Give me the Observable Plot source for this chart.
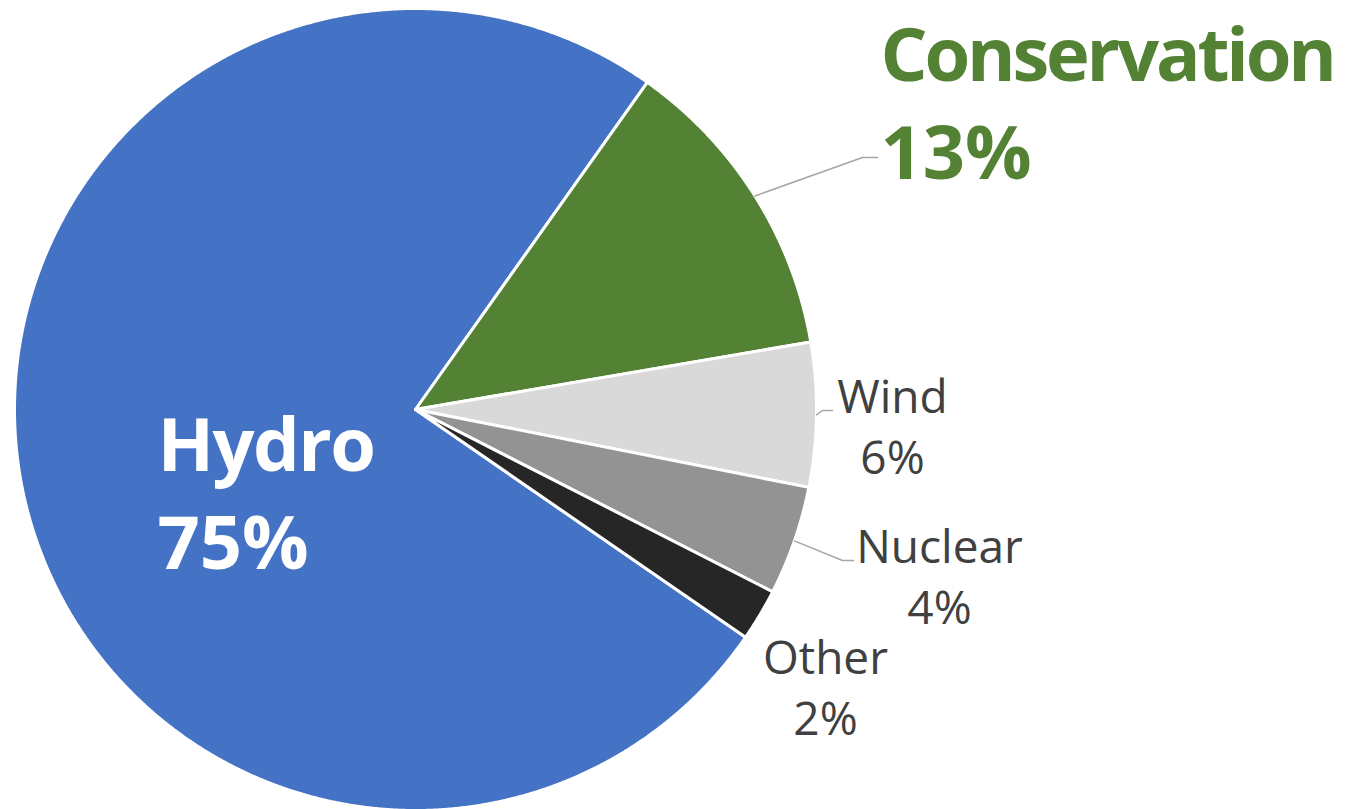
<!DOCTYPE html>
<html>
<head>
<meta charset="utf-8">
<script src="https://cdn.jsdelivr.net/npm/d3@7"></script>
<script src="https://cdn.jsdelivr.net/npm/@observablehq/plot@0.6"></script>
<style>
  html, body { margin: 0; padding: 0; background: #ffffff; }
  #chart svg { display: block; }
</style>
</head>
<body>
<div id="chart"></div>
<script>
// ---- data ----
const categories = ["Hydro", "Conservation", "Wind", "Nuclear", "Other"];
const shares = [75.2, 12.5, 5.8, 4.4, 2.1]; // percent
const colors = ["#4472C4", "#548235", "#D9D9D9", "#939393", "#262626"];

// ---- layout (pixels) ----
const W = 1358, H = 809;
const cx = 415, cy = 409, r = 401;
const startDeg = 124.6; // first slice start, clockwise from 12 o'clock
const labelLayout = {
  Hydro:        {x: 157, y: 470, anchor: "start",  size: 74, weight: "bold",   fill: "#ffffff", gap: 98, spacing: -1.6, leader: null},
  Conservation: {x: 880, y: 80,  anchor: "start",  size: 74, weight: "bold",   fill: "#548235", gap: 98, spacing: -3.2, leader: [[862, 157], [877, 157]]},
  Wind:         {x: 892, y: 412, anchor: "middle", size: 46, weight: "normal", fill: "#404040", gap: 61, spacing: 0, leader: [[822, 410], [832, 410]]},
  Nuclear:      {x: 939, y: 562, anchor: "middle", size: 46, weight: "normal", fill: "#404040", gap: 61, spacing: 0, leader: [[842, 560], [853, 560]]},
  Other:        {x: 825, y: 673, anchor: "middle", size: 46, weight: "normal", fill: "#404040", gap: 61, spacing: 0, leader: null}
};

const px2x = (px) => (px - cx) / r;
const py2y = (py) => (cy - py) / r;

const total = d3.sum(shares);
const slices = [];
let acc = startDeg;
categories.forEach((name, i) => {
  const span = shares[i] / total * 360;
  slices.push({name, share: shares[i], color: colors[i], a0: acc, a1: acc + span, mid: acc + span / 2});
  acc += span;
});

function slicePoints(s) {
  const pts = [{x: 0, y: 0}];
  const n = Math.max(2, Math.ceil((s.a1 - s.a0) / 0.25));
  for (let k = 0; k <= n; k++) {
    const a = (s.a0 + (s.a1 - s.a0) * k / n) * Math.PI / 180;
    pts.push({x: Math.sin(a), y: Math.cos(a)});
  }
  return pts;
}

const marks = [];
for (const s of slices) {
  marks.push(Plot.line(slicePoints(s), {
    x: "x", y: "y", curve: "linear-closed",
    fill: s.color, stroke: "#ffffff", strokeWidth: 3, strokeLinejoin: "round"
  }));
}

const font = "'Open Sans', 'Noto Sans', sans-serif";
const textOrder = [];
for (const s of slices) {
  const L = labelLayout[s.name];
  if (L.leader) {
    const a = s.mid * Math.PI / 180;
    const pts = [{x: Math.sin(a), y: Math.cos(a)}].concat(L.leader.map(([px, py]) => ({x: px2x(px), y: py2y(py)})));
    marks.push(Plot.line(pts, {x: "x", y: "y", stroke: "#A6A6A6", strokeWidth: 1.5}));
  }
  const lines = [
    {t: s.name, x: px2x(L.x), y: py2y(L.y)},
    {t: Math.round(s.share) + "%", x: px2x(L.x), y: py2y(L.y + L.gap)}
  ];
  marks.push(Plot.text(lines, {
    x: "x", y: "y", text: "t", textAnchor: L.anchor, lineAnchor: "bottom",
    fontSize: L.size, fontWeight: L.weight, fill: L.fill, fontFamily: font
  }));
  textOrder.push(L);
}

const chart = Plot.plot({
  width: W, height: H,
  marginTop: 0, marginRight: 0, marginBottom: 0, marginLeft: 0,
  x: {domain: [-1, 1], range: [cx - r, cx + r], axis: null},
  y: {domain: [-1, 1], range: [cy + r, cy - r], axis: null},
  style: {background: "#ffffff", overflow: "hidden"},
  marks
});
// letter spacing to approximate the narrower original typeface (names only)
d3.select(chart).selectAll('g[aria-label="text"]').each(function (_, i) {
  const L = textOrder[i];
  if (L && L.spacing) {
    d3.select(this).selectAll("text").filter((d, j) => j === 0).style("letter-spacing", L.spacing + "px");
  }
});
document.getElementById("chart").appendChild(chart);
</script>
</body>
</html>
